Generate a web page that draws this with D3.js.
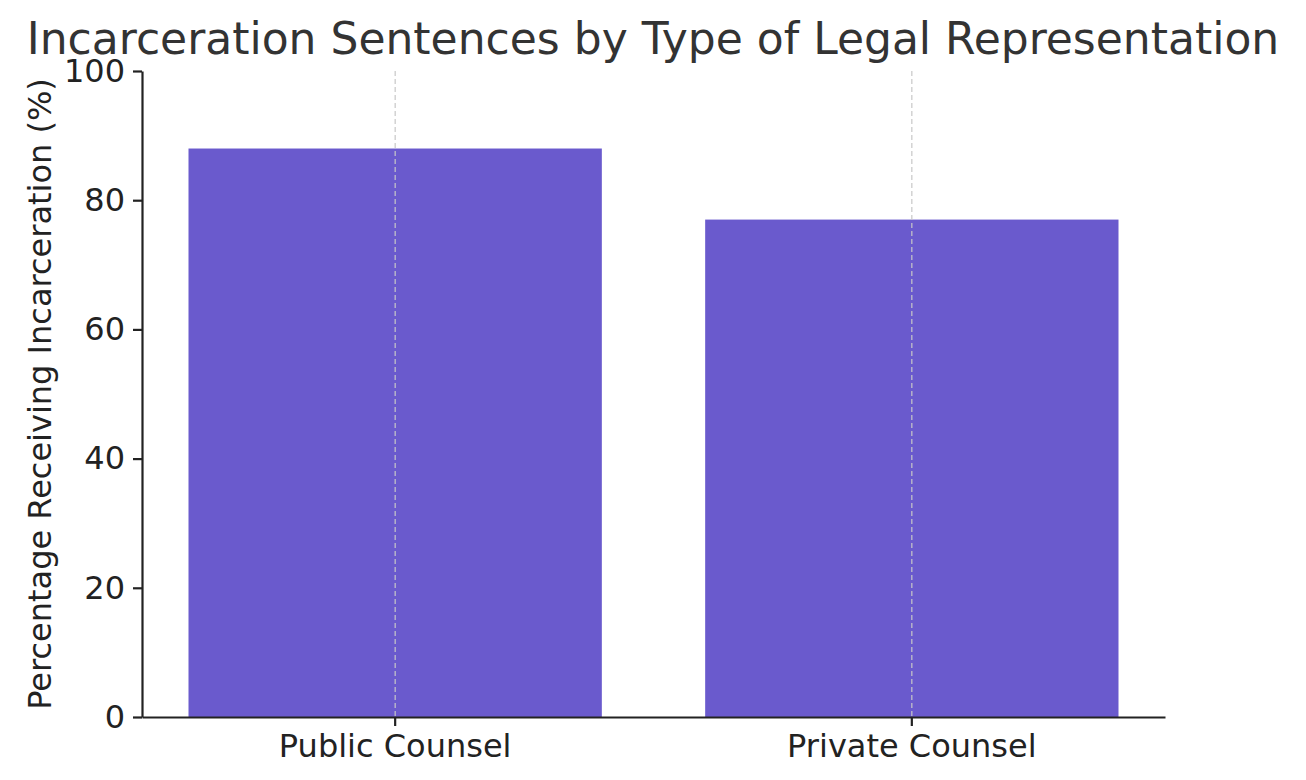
<!DOCTYPE html>
<html><head><meta charset="utf-8">
<script src="https://cdn.jsdelivr.net/npm/d3@7"></script>
<style>body{margin:0;background:#fff}text{font-family:"DejaVu Sans",sans-serif;fill:#222}</style>
</head><body><svg id="c" width="1306" height="780"></svg>
<script>
const categories = ["Public Counsel", "Private Counsel"];
const values = [88, 77];
const yTicks = [0, 20, 40, 60, 80, 100];

const svg = d3.select("#c");
const m = {l:142, r:1165, t:71, b:717};
const x = d3.scaleBand().domain(categories).range([m.l, m.r]).paddingInner(0.2).paddingOuter(0.09);
const y = d3.scaleLinear().domain([0,100]).range([m.b, m.t]);

svg.append("g").selectAll("rect").data(values).enter().append("rect")
  .attr("x",(d,i)=>x(categories[i])).attr("width",x.bandwidth())
  .attr("y",d=>y(d)).attr("height",d=>y(0)-y(d)).attr("fill","#6a5acd");

svg.append("g").selectAll("line").data(categories).enter().append("line")
  .attr("x1", d=>x(d)+x.bandwidth()/2).attr("x2", d=>x(d)+x.bandwidth()/2)
  .attr("y1", m.t).attr("y2", m.b).attr("stroke","#c8c8c8").attr("stroke-width",1.2).attr("stroke-dasharray","5,3");

const xa = svg.append("g").attr("transform",`translate(0,${m.b})`)
  .call(d3.axisBottom(x).tickSizeOuter(0).tickSizeInner(9).tickPadding(8));
xa.selectAll("text").style("font-size","32px").attr("fill","#222");
const ya = svg.append("g").attr("transform",`translate(${m.l},0)`)
  .call(d3.axisLeft(y).tickValues(yTicks).tickSizeOuter(0).tickSizeInner(9).tickPadding(8));
ya.selectAll("text").style("font-size","32px").attr("fill","#222");
svg.selectAll(".domain, .tick line").attr("stroke","#222").attr("stroke-width",2.2);

svg.append("text").attr("x",653).attr("y",54).attr("text-anchor","middle").style("font-size","44px").style("fill","#333")
  .text("Incarceration Sentences by Type of Legal Representation");
svg.append("text").attr("transform",`translate(51,${(m.t+m.b)/2}) rotate(-90)`).attr("text-anchor","middle")
  .style("font-size","32px").text("Percentage Receiving Incarceration (%)");
</script></body></html>
